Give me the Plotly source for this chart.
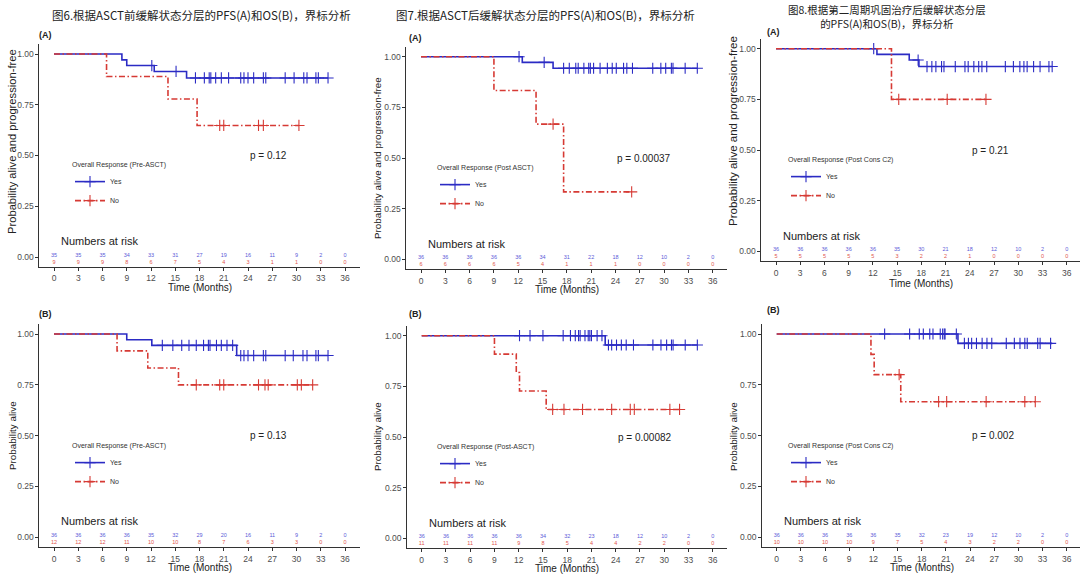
import plotly.graph_objects as go

W, H = 1080, 575

# ---------------- shared axis data ----------------
x_ticks = list(range(0, 37, 3))
y_ticks = [0, 0.25, 0.5, 0.75, 1.0]
y_tick_labels = ["0.00", "0.25", "0.50", "0.75", "1.00"]
risk_times = list(range(0, 37, 3))

fig_titles = [
    "图6.根据ASCT前缓解状态分层的PFS(A)和OS(B)，界标分析",
    "图7.根据ASCT后缓解状态分层的PFS(A)和OS(B)，界标分析",
    "图8.根据第二周期巩固治疗后缓解状态分层<br>的PFS(A)和OS(B)，界标分析",
]

# ---------------- Figure 6 (Pre-ASCT) ----------------
f6a_yes_t = [8.4, 9.0, 12.4, 16.4]
f6a_yes_s = [0.971, 0.943, 0.914, 0.882]
f6a_yes_end = 33.9
f6a_yes_cens = [12.1, 15.1, 17.5, 18.6, 19.2, 19.4, 20.0, 20.7, 21.6, 23.1, 23.5, 24.0,
                24.7, 25.9, 26.2, 28.6, 29.7, 30.9, 31.3, 32.4, 32.7, 33.9]
f6a_no_t = [6.5, 14.1, 17.7]
f6a_no_s = [0.889, 0.778, 0.648]
f6a_no_end = 30.3
f6a_no_cens = [20.5, 21.0, 25.3, 25.9, 30.3]
f6a_risk_yes = [35, 35, 35, 34, 33, 31, 27, 19, 16, 11, 9, 2, 0]
f6a_risk_no = [9, 9, 9, 8, 6, 7, 5, 4, 3, 1, 1, 0, 0]

f6b_yes_t = [9.0, 12.1, 22.6]
f6b_yes_s = [0.972, 0.944, 0.894]
f6b_yes_end = 33.9
f6b_yes_cens = [13.4, 14.7, 15.8, 16.7, 17.6, 18.5, 19.1, 19.3, 20.1, 20.7, 21.4, 22.1,
                23.1, 23.5, 24.0, 24.7, 25.9, 26.2, 28.6, 29.6, 30.8, 31.3, 32.4, 32.7, 33.9]
f6b_no_t = [7.8, 11.6, 15.4]
f6b_no_s = [0.917, 0.833, 0.75]
f6b_no_end = 32.0
f6b_no_cens = [17.6, 20.5, 21.0, 25.3, 26.1, 26.5, 30.1, 30.6, 32.0]
f6b_risk_yes = [36, 36, 36, 36, 35, 32, 29, 20, 16, 11, 9, 2, 0]
f6b_risk_no = [12, 12, 12, 11, 10, 10, 8, 7, 6, 3, 3, 0, 0]

# ---------------- Figure 7 (Post-ASCT) ----------------
f7a_yes_t = [12.5, 16.3]
f7a_yes_s = [0.972, 0.943]
f7a_yes_end = 34.1
f7a_yes_cens = [12.1, 15.2, 17.6, 18.3, 19.1, 19.4, 20.1, 20.7, 20.9, 21.3, 22.1, 23.0,
                23.6, 24.1, 25.0, 25.4, 26.1, 28.6, 29.6, 30.2, 30.9, 31.1, 32.6, 34.1]
f7a_no_t = [9.0, 14.2, 17.6]
f7a_no_s = [0.833, 0.667, 0.333]
f7a_no_end = 26.0
f7a_no_cens = [16.3, 26.0]
f7a_risk_yes = [36, 36, 36, 36, 36, 34, 31, 22, 18, 12, 10, 2, 0]
f7a_risk_no = [6, 6, 6, 6, 5, 4, 1, 1, 1, 0, 0, 0, 0]

f7b_yes_t = [22.7]
f7b_yes_s = [0.954]
f7b_yes_end = 34.1
f7b_yes_cens = [12.1, 13.4, 15.0, 17.5, 18.4, 19.0, 19.4, 19.6, 20.2, 20.6, 20.8, 21.0,
                21.7, 22.3, 23.1, 23.5, 24.1, 24.7, 25.3, 26.2, 28.6, 29.6, 30.3, 30.9,
                31.1, 32.6, 34.1]
f7b_no_t = [9.0, 11.7, 12.1, 15.4]
f7b_no_s = [0.909, 0.818, 0.727, 0.636]
f7b_no_end = 31.9
f7b_no_cens = [16.2, 17.6, 19.9, 23.5, 25.8, 26.3, 30.7, 31.9]
f7b_risk_yes = [36, 36, 36, 36, 36, 34, 32, 23, 18, 12, 10, 2, 0]
f7b_risk_no = [11, 11, 11, 11, 9, 8, 5, 4, 4, 2, 2, 0, 0]

# ---------------- Figure 8 (Post Cons C2) ----------------
f8a_yes_t = [12.5, 16.5, 17.7]
f8a_yes_s = [0.972, 0.944, 0.912]
f8a_yes_end = 34.2
f8a_yes_cens = [12.1, 17.6, 18.7, 19.3, 19.8, 20.5, 20.8, 22.2, 23.4, 23.8, 24.5, 25.1,
                25.5, 26.1, 28.4, 29.4, 30.2, 30.7, 31.1, 31.9, 32.7, 33.8, 34.2]
f8a_no_t = [14.3]
f8a_no_s = [0.75]
f8a_no_end = 26.0
f8a_no_cens = [15.2, 21.2, 26.0]
f8a_risk_yes = [36, 36, 36, 36, 36, 35, 30, 21, 18, 12, 10, 2, 0]
f8a_risk_no = [5, 5, 5, 5, 5, 3, 2, 2, 1, 0, 0, 0, 0]

f8b_yes_t = [22.5]
f8b_yes_s = [0.954]
f8b_yes_end = 34.2
f8b_yes_cens = [13.4, 16.5, 17.7, 18.2, 19.0, 19.4, 20.3, 20.6, 20.8, 20.9, 22.3, 23.3,
                23.8, 24.2, 24.8, 25.5, 26.1, 26.7, 28.5, 29.5, 30.2, 30.8, 31.1, 32.4,
                32.7, 34.0]
f8b_no_t = [11.7, 12.1, 15.4]
f8b_no_s = [0.9, 0.8, 0.667]
f8b_no_end = 32.1
f8b_no_cens = [15.2, 20.1, 21.1, 26.0, 30.8, 32.1]
f8b_risk_yes = [36, 36, 36, 36, 36, 35, 32, 23, 19, 12, 10, 2, 0]
f8b_risk_no = [10, 10, 10, 10, 9, 7, 5, 4, 3, 2, 2, 0, 0]

# ---------------- styles ----------------
BLUE = "#2B2BC4"
RED = "#D63A34"
BLUE_TXT = "#5B5BD8"
RED_TXT = "#E0564E"
AX = "#333333"
TICK_TXT = "#4D4D4D"
FONT = "Liberation Sans, Arial, sans-serif"
CJK = "Noto Sans CJK SC"
RED_DASH = "6px,2.5px,1.5px,2.5px"

# Panel layout in pixels: (x of month 0, x of month 36, y of 1.00, y of 0.00)
panels = [
    dict(geo=(54, 345, 54, 257), label="(A)", label_px=(45, 35),
         ytitle="Probability alive and progression-free", ytitle_px=(12, 142), ytitle_fs=11.2,
         leg_title="Overall Response (Pre-ASCT)", leg_px=(70, 158), pval="p = 0.12",
         yes=(f6a_yes_t, f6a_yes_s, f6a_yes_end, f6a_yes_cens),
         no=(f6a_no_t, f6a_no_s, f6a_no_end, f6a_no_cens),
         risk=(f6a_risk_yes, f6a_risk_no), xt_y=287),
    dict(geo=(421, 712.7, 56.7, 259.3), label="(A)", label_px=(415, 38),
         ytitle="Probability alive and progression-free", ytitle_px=(377, 158), ytitle_fs=9.8,
         leg_title="Overall Response (Post ASCT)", leg_px=(435, 161), pval="p = 0.00037",
         yes=(f7a_yes_t, f7a_yes_s, f7a_yes_end, f7a_yes_cens),
         no=(f7a_no_t, f7a_no_s, f7a_no_end, f7a_no_cens),
         risk=(f7a_risk_yes, f7a_risk_no), xt_y=289),
    dict(geo=(776, 1066.7, 48.7, 251.3), label="(A)", label_px=(773, 32),
         ytitle="Probability alive and progression-free", ytitle_px=(733, 131), ytitle_fs=11.5,
         leg_title="Overall Response (Post Cons C2)", leg_px=(786, 153), pval="p = 0.21",
         yes=(f8a_yes_t, f8a_yes_s, f8a_yes_end, f8a_yes_cens),
         no=(f8a_no_t, f8a_no_s, f8a_no_end, f8a_no_cens),
         risk=(f8a_risk_yes, f8a_risk_no), xt_y=283),
    dict(geo=(54, 345, 334, 537.3), label="(B)", label_px=(45, 314),
         ytitle="Probability alive", ytitle_px=(12, 436), ytitle_fs=9.8,
         leg_title="Overall Response (Pre-ASCT)", leg_px=(70, 439), pval="p = 0.13",
         yes=(f6b_yes_t, f6b_yes_s, f6b_yes_end, f6b_yes_cens),
         no=(f6b_no_t, f6b_no_s, f6b_no_end, f6b_no_cens),
         risk=(f6b_risk_yes, f6b_risk_no), xt_y=567.5),
    dict(geo=(421.7, 712.7, 335.7, 538.3), label="(B)", label_px=(415, 314),
         ytitle="Probability alive", ytitle_px=(377, 437), ytitle_fs=9.8,
         leg_title="Overall Response (Post-ASCT)", leg_px=(435, 440), pval="p = 0.00082",
         yes=(f7b_yes_t, f7b_yes_s, f7b_yes_end, f7b_yes_cens),
         no=(f7b_no_t, f7b_no_s, f7b_no_end, f7b_no_cens),
         risk=(f7b_risk_yes, f7b_risk_no), xt_y=568.5),
    dict(geo=(776.7, 1066.7, 334, 537.3), label="(B)", label_px=(773, 310),
         ytitle="Probability alive", ytitle_px=(733, 437), ytitle_fs=9.8,
         leg_title="Overall Response (Post Cons C2)", leg_px=(786, 439), pval="p = 0.002",
         yes=(f8b_yes_t, f8b_yes_s, f8b_yes_end, f8b_yes_cens),
         no=(f8b_no_t, f8b_no_s, f8b_no_end, f8b_no_cens),
         risk=(f8b_risk_yes, f8b_risk_no), xt_y=567.5),
]


def surv_at(t, ev_t, ev_s):
    val = 1.0
    for te, se in zip(ev_t, ev_s):
        if te <= t:
            val = se
    return val


fig = go.Figure()
layout = dict(width=W, height=H, margin=dict(l=0, r=0, t=0, b=0),
              paper_bgcolor="white", plot_bgcolor="white", showlegend=True)
annotations = []

for i, p in enumerate(panels):
    n = i + 1
    sfx = "" if n == 1 else str(n)
    xa, ya = "x" + sfx, "y" + sfx
    leg_id = "legend" + sfx
    x0, x36, y1, y0 = p["geo"]
    ppm = (x36 - x0) / 36.0
    left = x0 - 1.8 * ppm
    right = x36 + 1.8 * ppm
    xmax = 37.8
    if right > W:
        xmax = 36 + (W - x36) / ppm
        right = W
    ppu = y0 - y1
    top = y1 - 0.05 * ppu
    bottom = y0 + 0.05 * ppu

    layout["xaxis" + sfx] = dict(
        domain=[left / W, right / W], range=[-1.8, xmax], anchor=ya,
        tickmode="array", tickvals=x_ticks, ticktext=[str(v) for v in x_ticks],
        showline=True, linecolor=AX, linewidth=1, ticks="outside", ticklen=3,
        tickcolor=AX, tickfont=dict(family=FONT, size=8.5, color=TICK_TXT),
        showgrid=False, zeroline=False)
    layout["yaxis" + sfx] = dict(
        domain=[1 - bottom / H, 1 - top / H], range=[-0.05, 1.05], anchor=xa,
        tickmode="array", tickvals=y_ticks, ticktext=y_tick_labels,
        showline=True, linecolor=AX, linewidth=1, ticks="outside", ticklen=3,
        tickcolor=AX, tickfont=dict(family=FONT, size=8.5, color=TICK_TXT),
        showgrid=False, zeroline=False)

    for grp, color, dash, name in (("yes", BLUE, "solid", "Yes"), ("no", RED, RED_DASH, "No")):
        ev_t, ev_s, end_t, cens = p[grp]
        xs = [0] + list(ev_t) + [end_t]
        ys = [1.0] + list(ev_s) + [ev_s[-1]]
        mk = dict(symbol="cross-thin-open", size=8, color=color,
                  line=dict(color=color, width=1.1))
        fig.add_trace(go.Scatter(
            x=xs, y=ys, mode="lines", line=dict(color=color, width=1.6, dash=dash, shape="hv"),
            xaxis=xa, yaxis=ya, showlegend=False, hoverinfo="skip"))
        fig.add_trace(go.Scatter(
            x=cens, y=[surv_at(t, ev_t, ev_s) for t in cens], mode="markers",
            marker=mk, xaxis=xa, yaxis=ya, showlegend=False, hoverinfo="skip"))
        # legend-only entry
        fig.add_trace(go.Scatter(
            x=[None], y=[None], mode="lines+markers", name=name,
            line=dict(color=color, width=1.6, dash=dash), marker=mk,
            xaxis=xa, yaxis=ya, legend=leg_id, showlegend=True))

    # numbers at risk
    ry, rn = p["risk"]
    fig.add_trace(go.Scatter(
        x=risk_times, y=[0.008] * len(risk_times), mode="text", text=[str(v) for v in ry],
        textfont=dict(family=FONT, size=5.5, color=BLUE_TXT), xaxis=xa, yaxis=ya,
        showlegend=False, hoverinfo="skip"))
    fig.add_trace(go.Scatter(
        x=risk_times, y=[-0.026] * len(risk_times), mode="text", text=[str(v) for v in rn],
        textfont=dict(family=FONT, size=5.5, color=RED_TXT), xaxis=xa, yaxis=ya,
        showlegend=False, hoverinfo="skip"))

    layout[leg_id] = dict(
        x=p["leg_px"][0] / W, y=1 - p["leg_px"][1] / H, xanchor="left", yanchor="top",
        xref="paper", yref="paper", bgcolor="rgba(0,0,0,0)",
        title=dict(text=p["leg_title"], font=dict(family=FONT, size=7, color="#333333")),
        font=dict(family=FONT, size=7, color="#333333"), tracegroupgap=0)

    annotations += [
        dict(text="<b>" + p["label"] + "</b>", x=p["label_px"][0] / W, y=1 - p["label_px"][1] / H,
             xref="paper", yref="paper", showarrow=False, xanchor="center", yanchor="middle",
             font=dict(family=FONT, size=9, color="#222222")),
        dict(text=p["ytitle"], x=p["ytitle_px"][0] / W, y=1 - p["ytitle_px"][1] / H,
             xref="paper", yref="paper", showarrow=False, textangle=-90,
             xanchor="center", yanchor="middle",
             font=dict(family=FONT, size=p["ytitle_fs"], color="#222222")),
        dict(text="Time (Months)", x=18, xref=xa, y=1 - p["xt_y"] / H, yref="paper",
             showarrow=False, xanchor="center", yanchor="middle",
             font=dict(family=FONT, size=10, color="#222222")),
        dict(text="Numbers at risk", x=0.6, y=0.078, xref=xa, yref=ya, showarrow=False,
             xanchor="left", yanchor="middle", font=dict(family=FONT, size=11, color="#222222")),
        dict(text=p["pval"], x=24.0, y=0.5, xref=xa, yref=ya, showarrow=False,
             xanchor="left", yanchor="middle", font=dict(family=FONT, size=10, color="#222222")),
    ]

# figure titles (x centre px, y px, anchor, font size)
title_pos = [(201, 15, "middle", 11.5), (545, 15, "middle", 11.5), (887, 0.5, "top", 10.5)]
for txt, (px, py, anc, fs) in zip(fig_titles, title_pos):
    annotations.append(dict(text=txt, x=px / W, y=1 - py / H, xref="paper", yref="paper",
                            showarrow=False, xanchor="center", yanchor=anc, borderpad=0,
                            font=dict(family=CJK, size=fs, color="#222222")))

layout["annotations"] = annotations
fig.update_layout(**layout)
fig.write_html("out.html")
